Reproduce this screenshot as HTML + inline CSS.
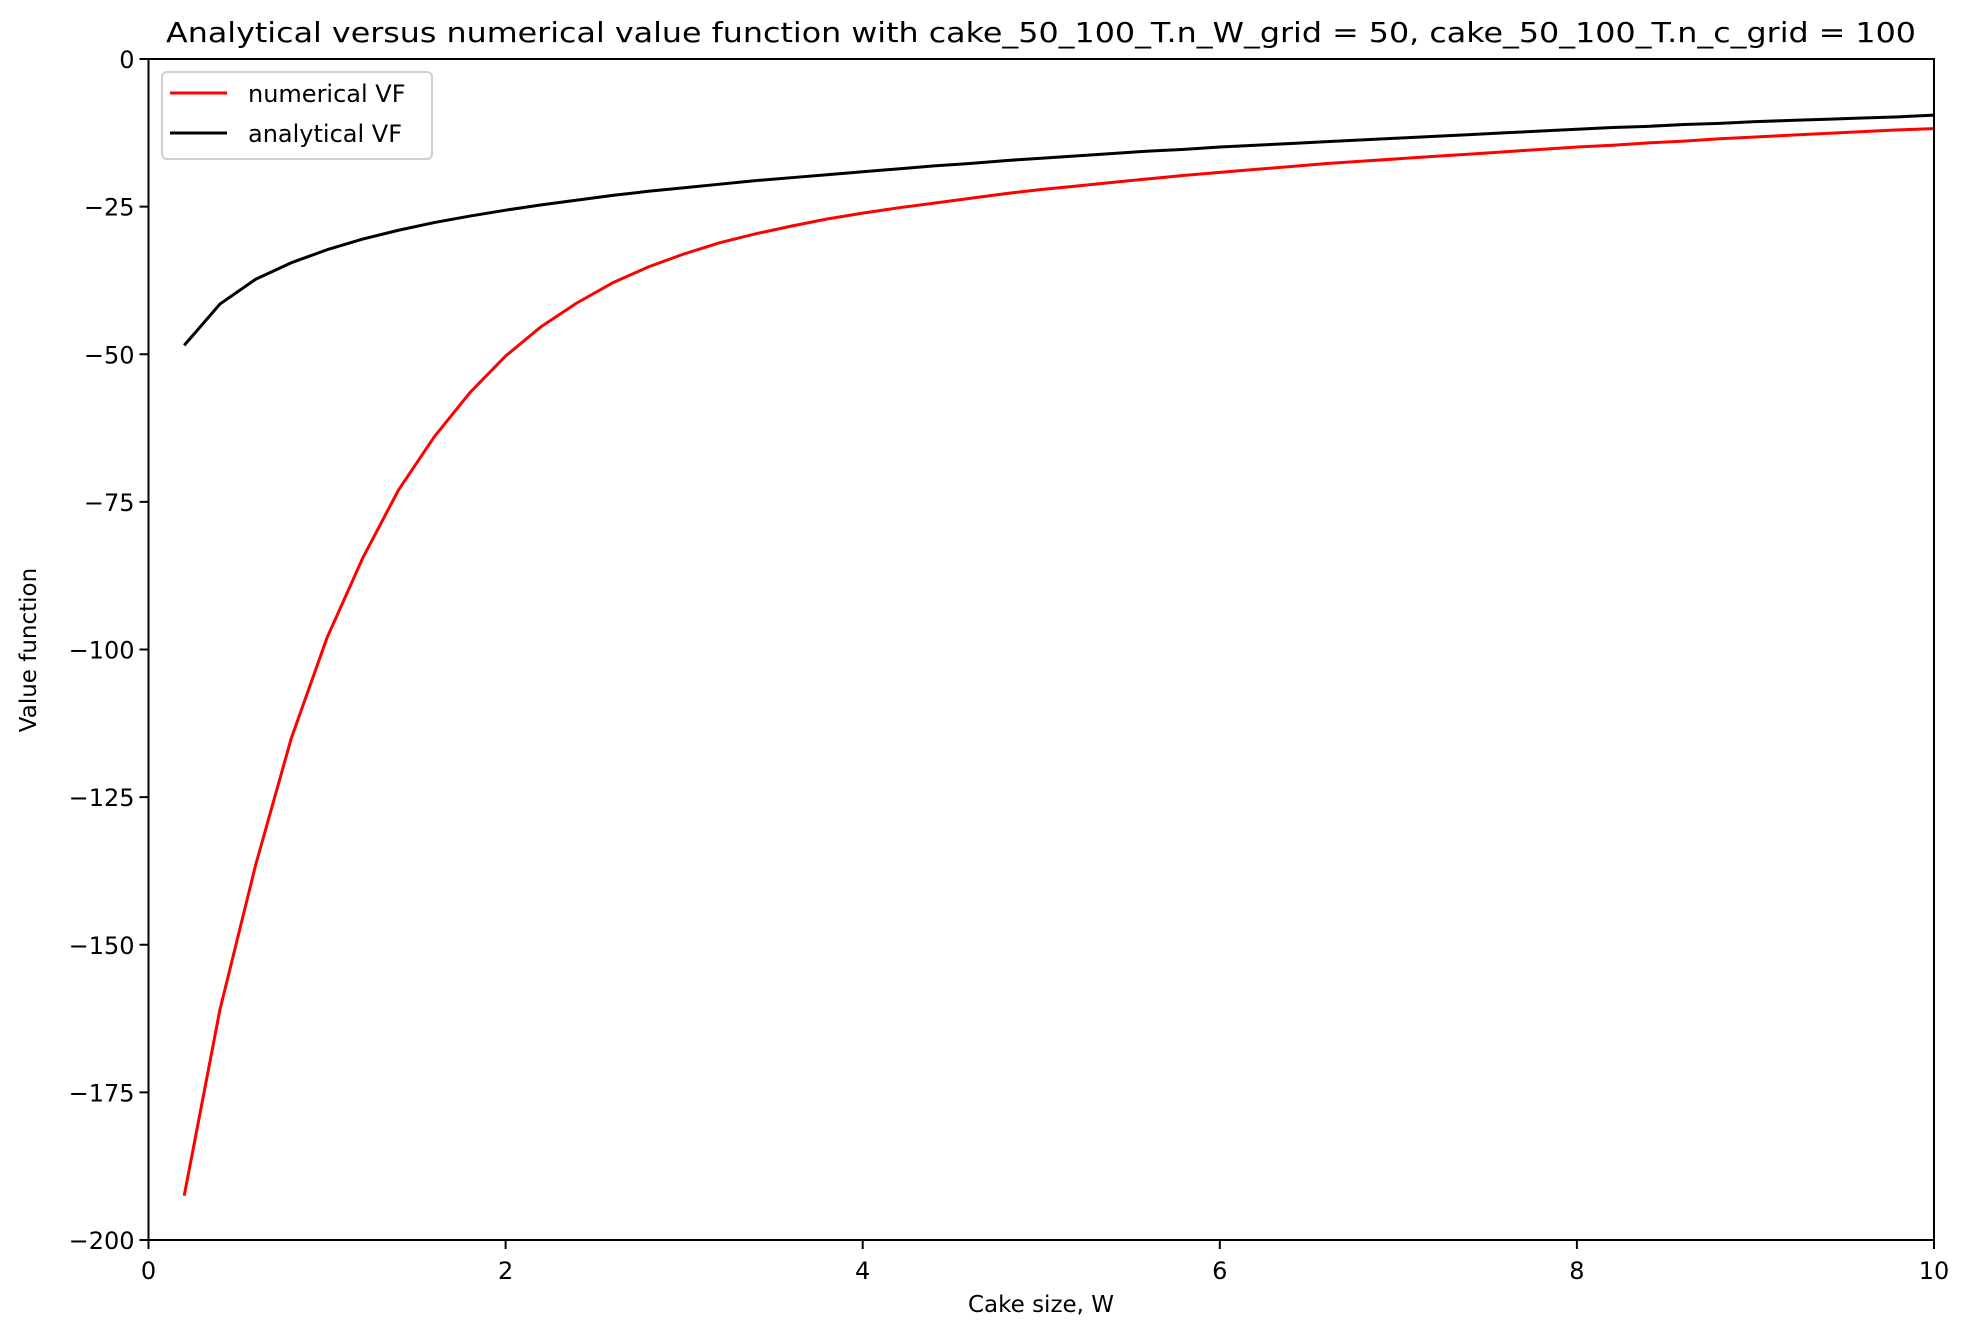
<!DOCTYPE html>
<html><head><meta charset="utf-8"><style>
body{margin:0;background:#fff}
svg{display:block;font-family:"DejaVu Sans","Liberation Sans",sans-serif}
</style></head><body>
<svg id="chart" width="1969" height="1342" viewBox="0 0 1969 1342" xmlns="http://www.w3.org/2000/svg">
<rect width="1969" height="1342" fill="#fff"/>
<text x="1041" y="42" font-size="28" text-anchor="middle" textLength="1750" lengthAdjust="spacingAndGlyphs">Analytical versus numerical value function with cake_50_100_T.n_W_grid = 50, cake_50_100_T.n_c_grid = 100</text>
<g id="marks"></g>
<g id="axes"></g>
<text x="1041" y="1312" font-size="23" text-anchor="middle">Cake size, W</text>
<text transform="translate(36,650) rotate(-90)" font-size="23" text-anchor="middle">Value function</text>
<g>
<rect x="162" y="72" width="270" height="87" rx="5" fill="#fff" stroke="#d0d0d0" stroke-width="2"/>
<line x1="170" y1="93" x2="227" y2="93" stroke="#ff0000" stroke-width="3"/>
<text x="248" y="102" font-size="24">numerical VF</text>
<line x1="170" y1="133" x2="227" y2="133" stroke="#000" stroke-width="3"/>
<text x="248" y="142" font-size="24">analytical VF</text>
</g>
</svg>
<script>
const wGrid = [0.2,0.4,0.6,0.8,1.0,1.2,1.4,1.6,1.8,2.0,2.2,2.4,2.6,2.8,3.0,3.2,3.4,3.6,3.8,4.0,4.2,4.4,4.6,4.8,5.0,5.2,5.4,5.6,5.8,6.0,6.2,6.4,6.6,6.8,7.0,7.2,7.4,7.6,7.8,8.0,8.2,8.4,8.6,8.8,9.0,9.2,9.4,9.6,9.8,10.0];
const numericalVF = [-192.5,-161,-136.5,-115,-98,-84.5,-73,-64,-56.5,-50.3,-45.3,-41.3,-37.9,-35.2,-33,-31.1,-29.6,-28.3,-27.1,-26.1,-25.2,-24.4,-23.6,-22.8,-22.1,-21.5,-20.9,-20.3,-19.7,-19.2,-18.7,-18.2,-17.7,-17.3,-16.9,-16.5,-16.1,-15.7,-15.3,-14.9,-14.6,-14.2,-13.9,-13.5,-13.2,-12.9,-12.6,-12.3,-12.0,-11.8];
const analyticalVF = [-48.5,-41.5,-37.3,-34.5,-32.3,-30.5,-29,-27.7,-26.6,-25.6,-24.7,-23.9,-23.1,-22.4,-21.8,-21.2,-20.6,-20.1,-19.6,-19.1,-18.6,-18.1,-17.7,-17.2,-16.8,-16.4,-16.0,-15.6,-15.3,-14.9,-14.6,-14.3,-14.0,-13.7,-13.4,-13.1,-12.8,-12.5,-12.2,-11.9,-11.6,-11.4,-11.1,-10.9,-10.6,-10.4,-10.2,-10.0,-9.8,-9.5];
const xTicks = [0,2,4,6,8,10];
const yTicks = [0,-25,-50,-75,-100,-125,-150,-175,-200];

const L=148.5,R=1934,T=59,B=1240;
const X=v=>L+(v-0)/(10-0)*(R-L);
const Y=v=>T+(0-v)/(200)*(B-T);
const NS="http://www.w3.org/2000/svg";
const marks=document.getElementById('marks'), axes=document.getElementById('axes');
function mk(tag,attrs,parent){const e=document.createElementNS(NS,tag);for(const k in attrs)e.setAttribute(k,attrs[k]);parent.appendChild(e);return e;}
function line(vals,color,name){
  const d=vals.map((v,i)=>(i?'L':'M')+X(wGrid[i]).toFixed(2)+','+Y(v).toFixed(2)).join(' ');
  const p=mk('path',{d:d,fill:'none',stroke:color,'stroke-width':3,'stroke-linejoin':'round'},marks);
  
  
}
line(numericalVF,'#ff0000','numerical-vf-line');
line(analyticalVF,'#000000','analytical-vf-line');
const frame=mk('rect',{x:L,y:T,width:R-L,height:B-T,fill:'none',stroke:'#000','stroke-width':2},axes);


xTicks.forEach(t=>{
  const x=X(t);
  mk('line',{x1:x,y1:B,x2:x,y2:B+9,stroke:'#000','stroke-width':2},axes);
  const tx=mk('text',{x:x,y:B+39,'font-size':24,'text-anchor':'middle'},axes);
  tx.textContent=t;
  
  
});
yTicks.forEach(t=>{
  const y=Y(t);
  mk('line',{x1:L-9,y1:y,x2:L,y2:y,stroke:'#000','stroke-width':2},axes);
  const tx=mk('text',{x:L-14,y:y+9,'font-size':24,'text-anchor':'end'},axes);
  tx.textContent=t<0?'\u2212'+(-t):t;
  
  
});
</script>
</body></html>
